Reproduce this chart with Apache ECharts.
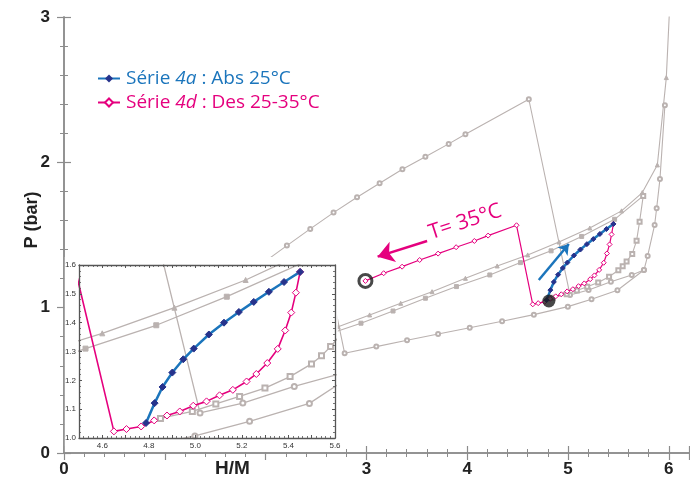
<!DOCTYPE html>
<html><head><meta charset="utf-8">
<script src="https://cdn.jsdelivr.net/npm/echarts@6/dist/echarts.min.js"></script>
<style>html,body{margin:0;padding:0;background:#fff}#c{width:690px;height:487px}</style>
</head><body><div id="c"></div>
<script>
// ---- tick labels shown ----
const mainXTickLabels = [0, 3, 4, 5, 6];
const mainYTickLabels = [0, 1, 2, 3];

// ---- Série 4a : Abs 25°C  (H/M, P bar) ----
const abs4aH = [4.788,4.825,4.859,4.901,4.948,4.993,5.058,5.123,5.187,5.251,5.316,5.381,5.450];
const abs4aP = [1.052,1.121,1.177,1.227,1.273,1.310,1.359,1.400,1.437,1.472,1.507,1.541,1.576];

// ---- Série 4d : Des 25-35°C ----
const des4dH = [2.99,3.171,3.354,3.528,3.711,3.890,4.071,4.207,4.489,4.650,4.704,4.767,4.823,4.878,4.933,4.991,5.048,5.104,5.161,5.220,5.262,5.309,5.354,5.386,5.412,5.432,5.450];
const des4dP = [1.184,1.237,1.282,1.328,1.372,1.416,1.459,1.496,1.567,1.023,1.031,1.040,1.061,1.078,1.092,1.112,1.127,1.148,1.167,1.196,1.222,1.260,1.309,1.373,1.435,1.504,1.576];

// ---- background (grey) isotherms ----
const g1H = [1.9,2.211,2.443,2.674,2.907,3.131,3.357,3.585,3.816,3.982,4.611,5.020,5.204,5.425,5.632,5.753];
const g1P = [1.27,1.427,1.542,1.654,1.760,1.856,1.953,2.039,2.127,2.193,2.434,1.087,1.121,1.179,1.225,1.259];
const g2H = [2.41,2.72,3.032,3.34,3.651,3.982,4.297,4.6,4.91,5.216,5.531,5.737,5.886,5.975,6.01];
const g2P = [0.785,0.869,0.950,1.03,1.110,1.202,1.287,1.363,1.452,1.548,1.666,1.792,1.982,2.583,3.1];
const g3H = [2.636,2.946,3.264,3.585,3.893,4.224,4.528,4.832,5.135,5.462,5.746];
const g3P = [0.82,0.893,0.977,1.065,1.145,1.225,1.310,1.391,1.490,1.608,1.769];
const g4H = [4.85,4.987,5.088,5.190,5.299,5.407,5.499,5.542,5.581,5.637,5.680,5.710,5.746];
const g4P = [1.068,1.092,1.118,1.144,1.173,1.213,1.257,1.285,1.317,1.370,1.461,1.592,1.769];
const g5H = [2.66,2.784,3.098,3.403,3.711,4.025,4.346,4.661,4.998,5.233,5.49,5.753,5.79,5.859,5.879,5.912,5.961];
const g5P = [1.10,0.686,0.732,0.776,0.819,0.862,0.906,0.952,1.007,1.058,1.12,1.259,1.356,1.569,1.684,1.886,2.393];

// ---- annotations (data coords) ----
const arrowAbs = [[4.71,1.19],[5.008,1.438]];
const arrowDes = [[3.602,1.459],[3.111,1.351]];
const startDot = [[4.81,1.046]];
const endRing = [[2.99,1.184]];
const tempLabelPos = [3.98,1.59];

const BLUE='#1b75bc', NAVY='#26338c', PINK='#e5007e', GREY='#bab2b0', AX='#8c8c8c';
const zip=(h,p)=>h.map((x,i)=>[x,p[i]]);
const SANS="'Open Sans', 'Noto Sans', sans-serif";
const BOLD="'Liberation Sans', Arial, sans-serif";

const greySets=[
  {d:zip(g1H,g1P), sym:'emptyCircle'},
  {d:zip(g2H,g2P), sym:'triangle'},
  {d:zip(g3H,g3P), sym:'rect'},
  {d:zip(g4H,g4P), sym:'emptyRect'},
  {d:zip(g5H,g5P), sym:'emptyCircle'}
];

function mk(inset){
  const ax = inset?{xAxisIndex:2,yAxisIndex:2,zlevel:1,z:5}:{xAxisIndex:0,yAxisIndex:0};
  const s=[];
  greySets.forEach(g=>{
    s.push(Object.assign({type:'line',data:g.d,symbol:g.sym,symbolSize:inset?5:4,
      lineStyle:{color:GREY,width:inset?1.3:1.1},itemStyle:{color:GREY,borderColor:GREY,borderWidth:1},
      silent:true,animation:false},ax));
  });
  s.push(Object.assign({type:'line',name:'4d',data:zip(des4dH,des4dP),symbol:'diamond',symbolSize:inset?7:5,
    lineStyle:{color:PINK,width:inset?1.6:1.2},itemStyle:{color:'#fff',borderColor:PINK,borderWidth:1},animation:false,
    markLine: inset?undefined:{silent:true,symbol:['none','arrow'],symbolSize:16,animation:false,label:{show:false},
      lineStyle:{color:PINK,width:2.5,type:'solid'},data:[[{coord:arrowDes[0]},{coord:arrowDes[1]}]]}},ax));
  s.push(Object.assign({type:'line',name:'4a',data:zip(abs4aH,abs4aP),symbol:'diamond',symbolSize:inset?7:5,
    lineStyle:{color:BLUE,width:2.5},itemStyle:{color:NAVY,borderColor:NAVY},animation:false,
    markLine: inset?undefined:{silent:true,symbol:['none','arrow'],symbolSize:10,animation:false,label:{show:false},
      lineStyle:{color:BLUE,width:2.5,type:'solid'},data:[[{coord:arrowAbs[0]},{coord:arrowAbs[1]}]]}},ax));
  return s;
}

const series=[...mk(false),
  {type:'scatter',data:startDot,symbol:'circle',symbolSize:13,itemStyle:{color:'#1a1a1a'},xAxisIndex:0,yAxisIndex:0,z:6,silent:true,animation:false},
  {type:'scatter',data:endRing,symbol:'circle',symbolSize:13,itemStyle:{color:'rgba(0,0,0,0)',borderColor:'#1a1a1a',borderWidth:3},xAxisIndex:0,yAxisIndex:0,z:6,silent:true,animation:false},
  ...mk(true)];

const mainTickCommon={axisTick:{show:true,inside:true,length:7,lineStyle:{color:AX,width:1.2}},
  minorTick:{show:true,splitNumber:5,length:4,lineStyle:{color:AX,width:1}},
  axisLine:{show:true,lineStyle:{color:AX,width:1.5}},splitLine:{show:false}};
const insTickCommon={axisTick:{show:true,inside:true,length:3,lineStyle:{color:'#555',width:1}},
  minorTick:{show:true,splitNumber:5,length:2,lineStyle:{color:'#555',width:0.8}},
  axisLine:{show:true,lineStyle:{color:'#555',width:1.3}},splitLine:{show:false}};

const option={
  backgroundColor:'#fff',
  animation:false,
  grid:[{left:64,right:1,top:17,bottom:34,containLabel:false,outerBoundsMode:'none'},
        {left:79,right:355,top:265,bottom:49,zlevel:1,z:1,containLabel:false,outerBoundsMode:'none'}],
  xAxis:[
    Object.assign({type:'value',gridIndex:0,position:'bottom',min:0,max:6.2,interval:1,
      name:'H/M',nameLocation:'middle',nameGap:6,nameMoveOverlap:false,
      nameTextStyle:{fontFamily:BOLD,fontWeight:'bold',fontSize:19,color:'#222',padding:[0,288,0,0],verticalAlign:'top'},
      axisLabel:{fontFamily:BOLD,fontWeight:'bold',fontSize:17,color:'#222',margin:8,
        formatter:v=>mainXTickLabels.includes(v)?String(v):''}},mainTickCommon),
    Object.assign({type:'value',gridIndex:0,position:'top',min:0,max:6.2,interval:1,axisLabel:{show:false}},mainTickCommon),
    Object.assign({type:'value',gridIndex:1,position:'bottom',min:4.5,max:5.6,interval:0.1,zlevel:1,z:6,
      axisLabel:{fontFamily:BOLD,fontSize:8,color:'#333',margin:4,
        formatter:v=>{const k=Math.round(v*10);return (k%2===0)?(k/10).toFixed(1):'';}}},insTickCommon),
    Object.assign({type:'value',gridIndex:1,position:'top',min:4.5,max:5.6,interval:0.1,zlevel:1,z:6,axisLabel:{show:false}},insTickCommon)
  ],
  yAxis:[
    Object.assign({type:'value',gridIndex:0,position:'left',min:0,max:3,interval:1,
      name:'P (bar)',nameLocation:'middle',nameGap:23,nameRotate:90,nameMoveOverlap:false,
      nameTextStyle:{fontFamily:BOLD,fontWeight:'bold',fontSize:18,color:'#222',padding:[0,0,0,30]},
      axisLabel:{fontFamily:BOLD,fontWeight:'bold',fontSize:17,color:'#222',margin:14,
        formatter:v=>mainYTickLabels.includes(v)?String(v):''}},mainTickCommon),
    Object.assign({type:'value',gridIndex:0,position:'right',min:0,max:3,interval:1,axisLabel:{show:false}},mainTickCommon),
    Object.assign({type:'value',gridIndex:1,position:'left',min:1.0,max:1.6,interval:0.1,zlevel:1,z:6,
      axisLabel:{fontFamily:BOLD,fontSize:8,color:'#333',margin:3,formatter:v=>v.toFixed(1)}},insTickCommon),
    Object.assign({type:'value',gridIndex:1,position:'right',min:1.0,max:1.6,interval:0.1,zlevel:1,z:6,axisLabel:{show:false}},insTickCommon)
  ],
  legend:{show:true,orient:'vertical',left:92,top:64,itemWidth:22,itemHeight:10,itemGap:5,
    selectedMode:false,
    data:[{name:'4a',textStyle:{color:BLUE}},{name:'4d',textStyle:{color:PINK}}],
    formatter:n=>n==='4a'?'Série {ib|4a} : Abs 25°C':'Série {ip|4d} : Des 25-35°C',
    textStyle:{fontFamily:SANS,fontSize:19,padding:[0,0,0,1],
      rich:{ib:{fontFamily:SANS,fontSize:19,fontStyle:'italic',color:BLUE},ip:{fontFamily:SANS,fontSize:19,fontStyle:'italic',color:PINK}}}},
  graphic:[{id:'box',type:'rect',shape:{x:64.8,y:257,width:273,height:195},style:{fill:'#fff'},zlevel:1,z:0,silent:true}],
  series:series
};
const chart=echarts.init(document.getElementById('c'));
chart.setOption(option);
const tp=chart.convertToPixel({gridIndex:0},tempLabelPos);
chart.setOption({graphic:[{id:'box'},{id:'tlabel',type:'text',x:tp[0],y:tp[1],rotation:18*Math.PI/180,
  style:{text:'T= 35°C',fill:PINK,font:"21px 'Open Sans', sans-serif",align:'center',verticalAlign:'middle'},z:10,silent:true}]});
</script></body></html>
